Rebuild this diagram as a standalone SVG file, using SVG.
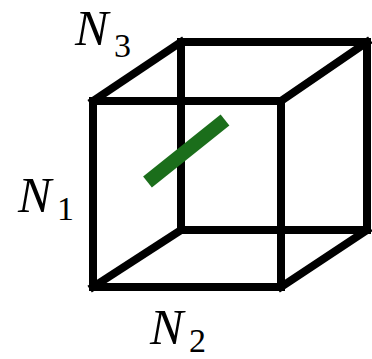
<svg xmlns="http://www.w3.org/2000/svg" width="372" height="359" viewBox="0 0 372 359">
<style>
.e{fill:none;stroke:#000;stroke-width:8;stroke-linecap:square;stroke-linejoin:miter}
.n{font-family:"Liberation Serif",serif;font-style:italic;font-size:50px;fill:#000}
.s{font-family:"Liberation Serif",serif;font-size:34px;fill:#000}
</style>
<rect width="372" height="359" fill="#fff"/>
<g id="edges">
<rect class="e" x="181" y="42" width="186" height="188"/>
<line class="e" x1="93" y1="101" x2="181" y2="42"/>
<line class="e" x1="281" y1="101" x2="367" y2="42"/>
<line class="e" x1="281" y1="287" x2="367" y2="230"/>
<line class="e" x1="93" y1="287" x2="181" y2="230"/>
<rect class="e" x="93" y="101" width="188" height="186"/>
</g>
<g id="vector">
<line x1="147.5" y1="182" x2="225" y2="120" stroke="#1b6e1b" stroke-width="14"/>
</g>
<g id="N3"><text class="n" x="75" y="45">N</text><text class="s" x="114" y="57">3</text></g>
<g id="N1"><text class="n" x="18" y="212">N</text><text class="s" x="57" y="220">1</text></g>
<g id="N2"><text class="n" x="150" y="344">N</text><text class="s" x="189" y="352">2</text></g>
</svg>
